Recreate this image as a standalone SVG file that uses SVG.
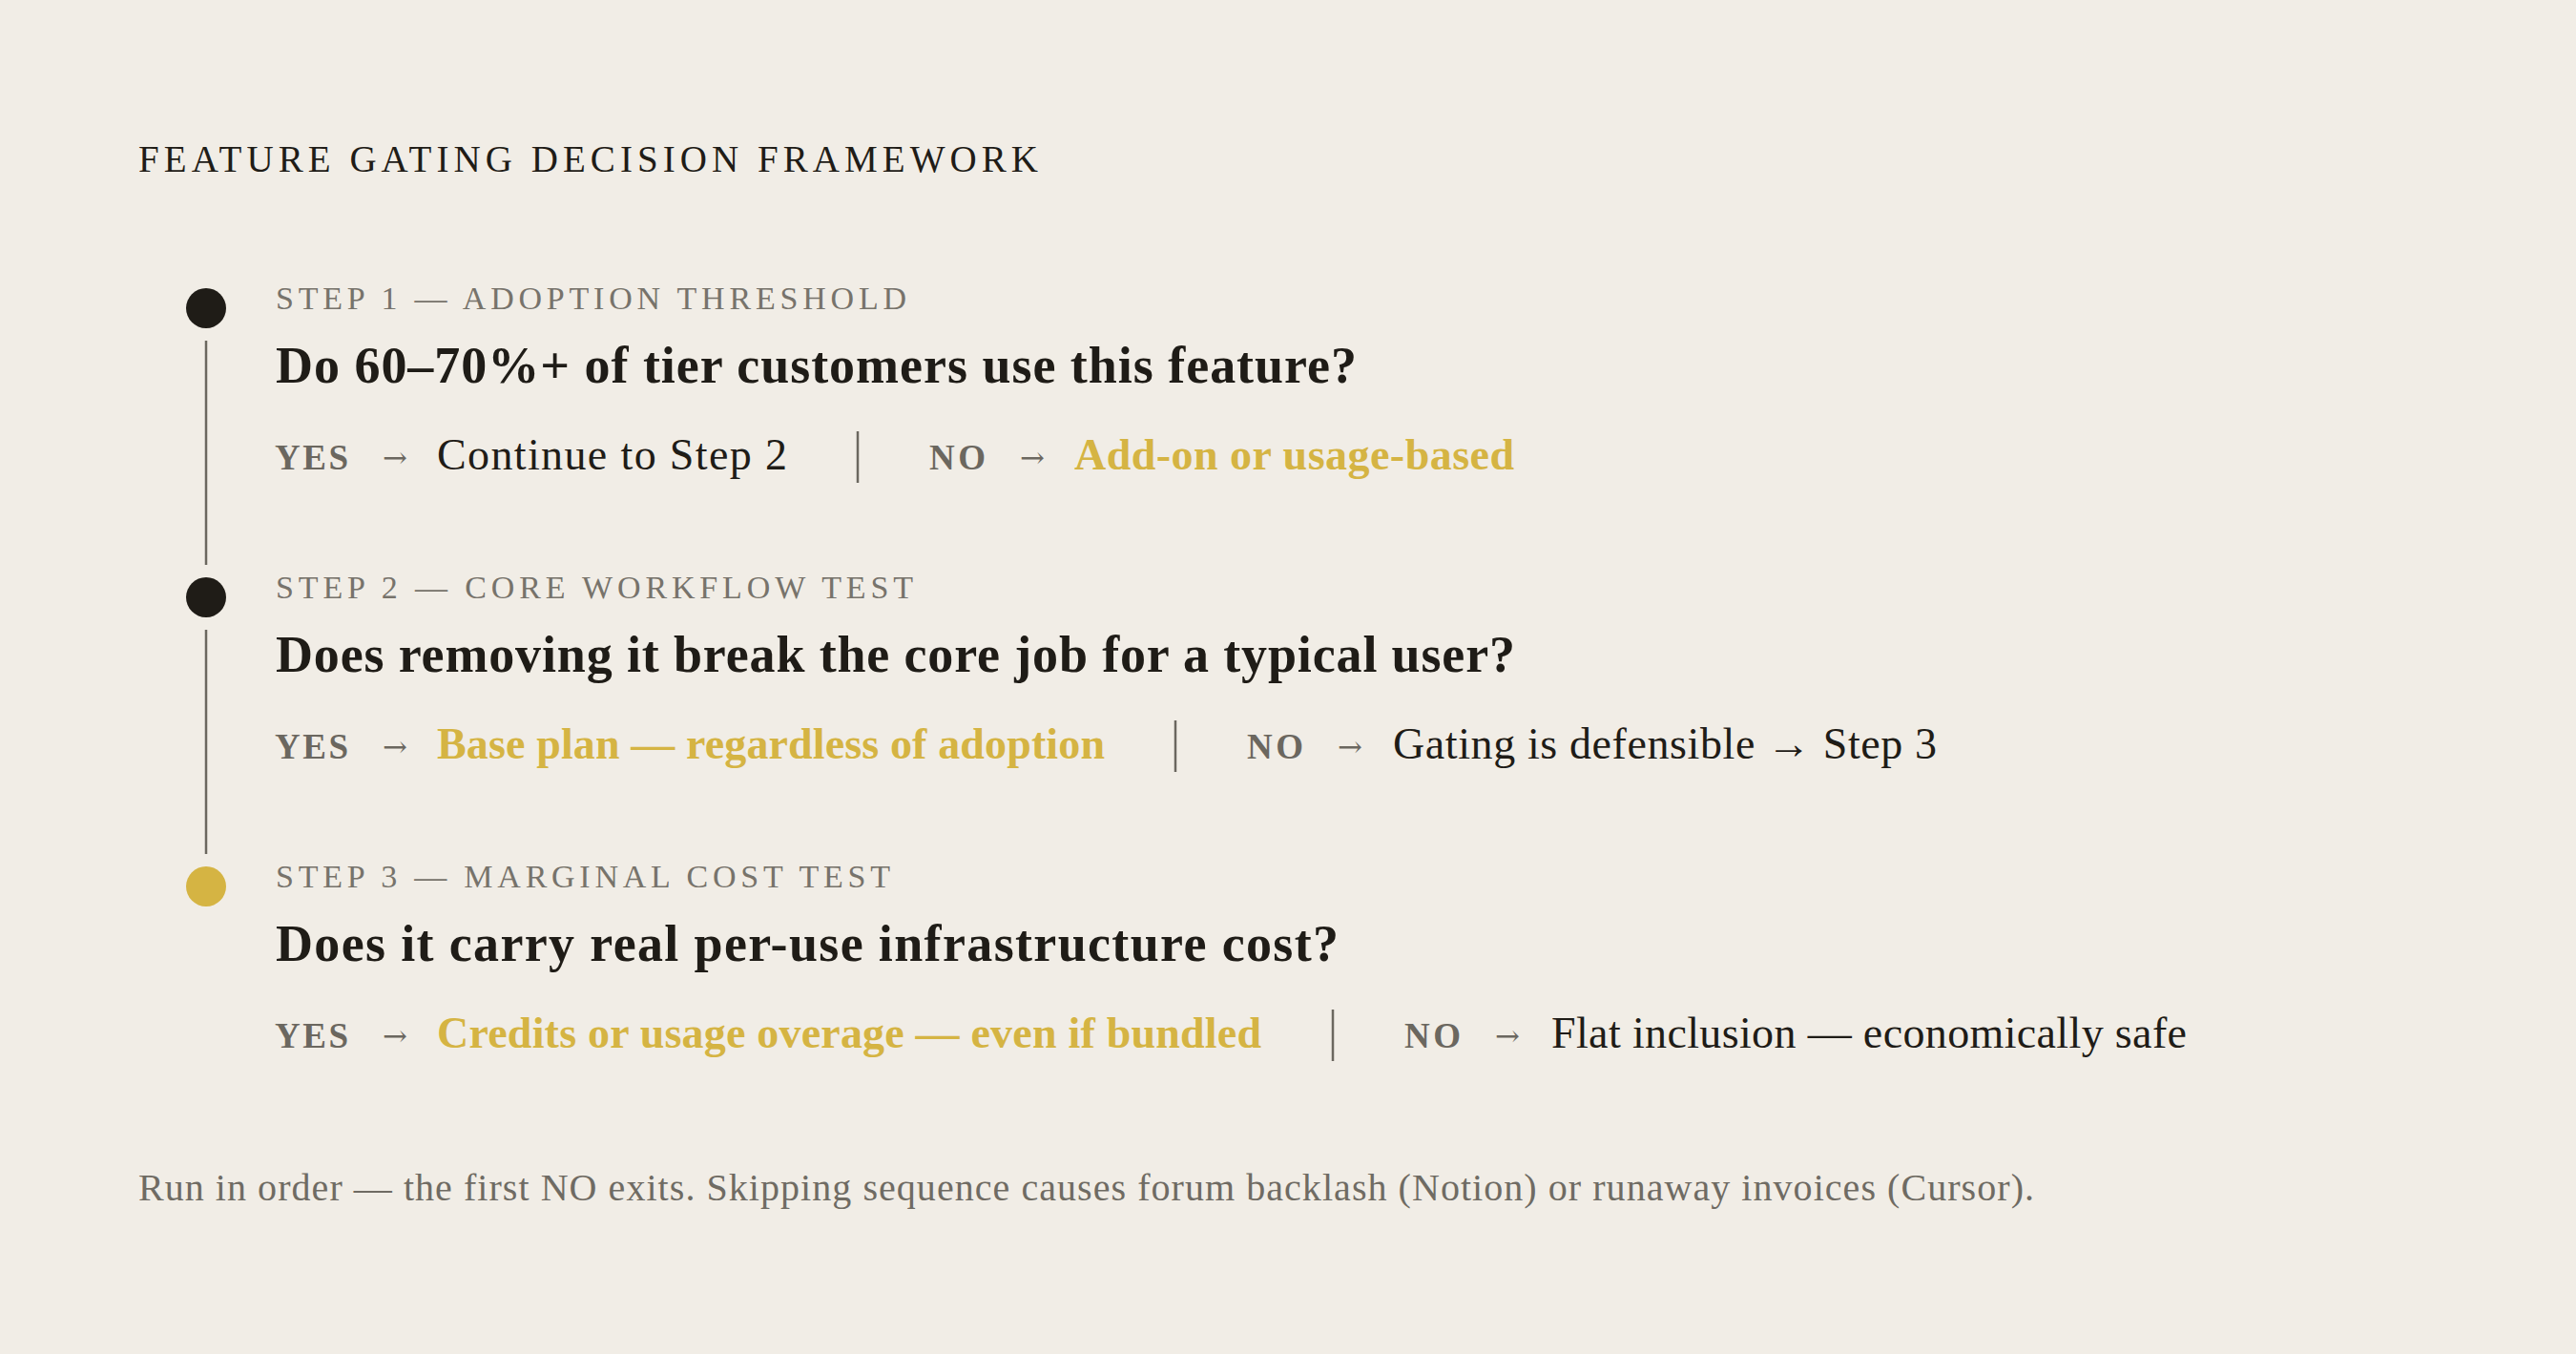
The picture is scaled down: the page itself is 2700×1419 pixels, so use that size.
<svg xmlns="http://www.w3.org/2000/svg" width="2700" height="1419" viewBox="0 0 2700 1419">
<style>
text{font-family:"Liberation Serif","Times New Roman",serif;}
.title{font-size:39px;fill:#1f1c17;}
.label{font-size:34px;fill:#77736b;}
.q{font-size:54px;font-weight:bold;fill:#1f1c17;}
.yn{font-size:37px;font-weight:bold;fill:#6b675f;}
text.arr{font-family:"DejaVu Serif",serif;font-size:30px;fill:#6b675f;}
.ans{font-size:46px;fill:#1f1c17;}
.gold{font-size:46px;font-weight:bold;fill:#d5b443;}
.foot{font-size:40px;fill:#6f6b63;}
.sep{stroke:#6b675f;stroke-width:2.5;}
.rail{stroke:#6b675f;stroke-width:2.5;}
</style>
<rect width="2700" height="1419" fill="#f1ede6"/>
<text class="title" x="145" y="180" textLength="943" lengthAdjust="spacing">FEATURE GATING DECISION FRAMEWORK</text>
<g id="connectors">
<line class="rail" x1="216" y1="357" x2="216" y2="592"/>
<line class="rail" x1="216" y1="660" x2="216" y2="895"/>
</g>
<g id="step1">
<circle cx="216" cy="323" r="21" fill="#1f1c17"/>
<text class="label" x="289" y="324" textLength="661" lengthAdjust="spacing">STEP 1 — ADOPTION THRESHOLD</text>
<text class="q" x="289" y="401" textLength="1133" lengthAdjust="spacing">Do 60–70%+ of tier customers use this feature?</text>
<text class="yn" x="288" y="492" textLength="77" lengthAdjust="spacing">YES</text>
<text class="arr" x="401" y="490" textLength="26" lengthAdjust="spacingAndGlyphs">→</text>
<text class="ans" x="458" y="492" textLength="367" lengthAdjust="spacing">Continue to Step 2</text>
<line class="sep" x1="899" y1="452" x2="899" y2="506"/>
<text class="yn" x="974" y="492" textLength="59" lengthAdjust="spacing">NO</text>
<text class="arr" x="1069" y="490" textLength="26" lengthAdjust="spacingAndGlyphs">→</text>
<text class="gold" x="1126" y="492" textLength="461" lengthAdjust="spacing">Add-on or usage-based</text>
</g>
<g id="step2">
<circle cx="216" cy="626" r="21" fill="#1f1c17"/>
<text class="label" x="289" y="627" textLength="668" lengthAdjust="spacing">STEP 2 — CORE WORKFLOW TEST</text>
<text class="q" x="289" y="704" textLength="1299" lengthAdjust="spacing">Does removing it break the core job for a typical user?</text>
<text class="yn" x="288" y="795" textLength="77" lengthAdjust="spacing">YES</text>
<text class="arr" x="401" y="793" textLength="26" lengthAdjust="spacingAndGlyphs">→</text>
<text class="gold" x="458" y="795" textLength="700" lengthAdjust="spacing">Base plan — regardless of adoption</text>
<line class="sep" x1="1232" y1="755" x2="1232" y2="809"/>
<text class="yn" x="1307" y="795" textLength="59" lengthAdjust="spacing">NO</text>
<text class="arr" x="1402" y="793" textLength="26" lengthAdjust="spacingAndGlyphs">→</text>
<text class="ans" x="1460" y="795" textLength="570" lengthAdjust="spacing">Gating is defensible → Step 3</text>
</g>
<g id="step3">
<circle cx="216" cy="929" r="21" fill="#d5b443"/>
<text class="label" x="289" y="930" textLength="644" lengthAdjust="spacing">STEP 3 — MARGINAL COST TEST</text>
<text class="q" x="289" y="1007" textLength="1114" lengthAdjust="spacing">Does it carry real per-use infrastructure cost?</text>
<text class="yn" x="288" y="1098" textLength="77" lengthAdjust="spacing">YES</text>
<text class="arr" x="401" y="1096" textLength="26" lengthAdjust="spacingAndGlyphs">→</text>
<text class="gold" x="458" y="1098" textLength="864" lengthAdjust="spacing">Credits or usage overage — even if bundled</text>
<line class="sep" x1="1397" y1="1058" x2="1397" y2="1112"/>
<text class="yn" x="1472" y="1098" textLength="59" lengthAdjust="spacing">NO</text>
<text class="arr" x="1567" y="1096" textLength="26" lengthAdjust="spacingAndGlyphs">→</text>
<text class="ans" x="1626" y="1098" textLength="666" lengthAdjust="spacing">Flat inclusion — economically safe</text>
</g>
<text class="foot" x="145" y="1258" textLength="1987" lengthAdjust="spacing">Run in order — the first NO exits. Skipping sequence causes forum backlash (Notion) or runaway invoices (Cursor).</text>
</svg>
